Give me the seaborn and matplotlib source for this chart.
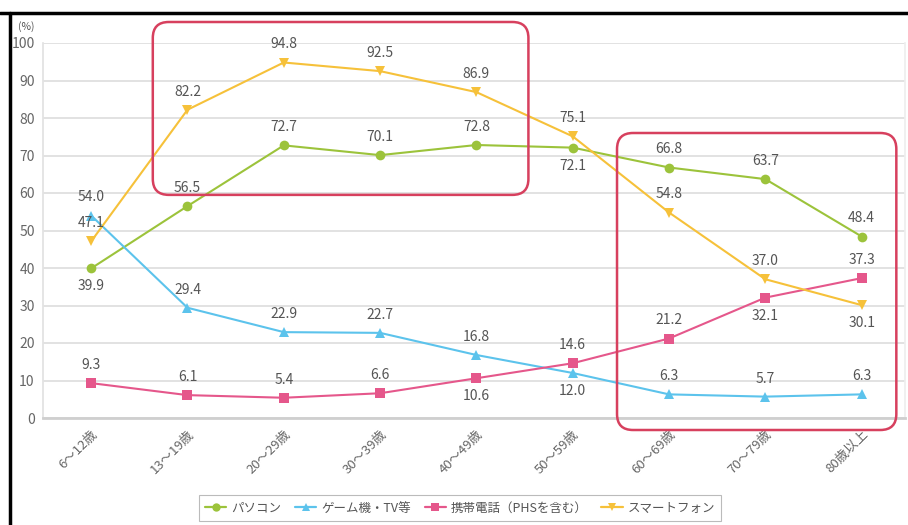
import numpy as np
import pandas as pd
import matplotlib
matplotlib.use("Agg")
import matplotlib.pyplot as plt
from matplotlib.patches import FancyBboxPatch
from matplotlib.lines import Line2D
from matplotlib.transforms import IdentityTransform
import seaborn as sns

# data
ages = ['6～12歳', '13～19歳', '20～29歳', '30～39歳', '40～49歳',
        '50～59歳', '60～69歳', '70～79歳', '80歳以上']
series_names = ['パソコン', 'ゲーム機・TV等', '携帯電話（PHSを含む）', 'スマートフォン']
pc = [39.9, 56.5, 72.7, 70.1, 72.8, 72.1, 66.8, 63.7, 48.4]
game = [54.0, 29.4, 22.9, 22.7, 16.8, 12.0, 6.3, 5.7, 6.3]
mobile = [9.3, 6.1, 5.4, 6.6, 10.6, 14.6, 21.2, 32.1, 37.3]
smart = [47.1, 82.2, 94.8, 92.5, 86.9, 75.1, 54.8, 37.0, 30.1]

# label placement: +1 above, -1 below
label_side = {
    'パソコン': [-1, 1, 1, 1, 1, -1, 1, 1, 1],
    'ゲーム機・TV等': [1, 1, 1, 1, 1, -1, 1, 1, 1],
    '携帯電話（PHSを含む）': [1, 1, 1, 1, -1, 1, 1, -1, 1],
    'スマートフォン': [1, 1, 1, 1, 1, 1, 1, 1, -1],
}

colors = ['#9cc33b', '#5cc3ec', '#e5578b', '#f6c13a']
markers = ['o', '^', 's', 'v']

vals = [pc, game, mobile, smart]
df = pd.concat([
    pd.DataFrame({'age': ages, 'x': range(len(ages)), 'value': v, 'series': n})
    for n, v in zip(series_names, vals)
])

sns.set_theme(style='white')
plt.rcParams['font.family'] = ['Noto Sans CJK JP', 'DejaVu Sans']

fig = plt.figure(figsize=(9.08, 5.25), dpi=100)
ax = fig.add_axes([43 / 908, 1 - 418 / 525, 862 / 908, 375 / 525])

sns.lineplot(
    data=df, x='x', y='value', hue='series', style='series',
    palette=dict(zip(series_names, colors)),
    markers=dict(zip(series_names, markers)),
    dashes=False, markersize=7, markeredgewidth=0,
    linewidth=1.5, ax=ax, legend=False, zorder=3
)

ax.set_xlim(-0.5, 8.45)
ax.set_ylim(0, 100)
ax.set_yticks(range(0, 101, 10))
ax.set_xticks(range(len(ages)))
ax.set_xticklabels(ages, rotation=45, ha='right', rotation_mode='anchor',
                   fontsize=9.5, color='#666666')
ax.tick_params(axis='y', labelsize=10, labelcolor='#666666', length=0, pad=6)
ax.tick_params(axis='x', length=0, pad=7)
ax.set_xlabel('')
ax.set_ylabel('')
ax.grid(axis='y', color='#e2e2e2', linewidth=1.4)
ax.spines['top'].set_visible(False)
ax.spines['right'].set_color('#eeeeee')
ax.spines['left'].set_color('#e2e2e2')
ax.spines['bottom'].set_color('#cfcfcf')
ax.spines['bottom'].set_linewidth(2)

for n, v in zip(series_names, vals):
    for i, val in enumerate(v):
        side = label_side[n][i]
        ax.annotate(f'{val:.1f}', (i, val), xytext=(0, 8 * side),
                    textcoords='offset points', ha='center',
                    va='bottom' if side > 0 else 'top',
                    fontsize=10, color='#555555', zorder=4)

ax.text(-0.76, 103, '(%)', fontsize=7.5, color='#555555',
        transform=ax.transData, ha='left', va='bottom', clip_on=False)

# highlight boxes
fig.canvas.draw()
for (x0, y0, x1, y1) in [(0.64, 59.5, 4.54, 105.6), (5.46, -3.2, 8.36, 76.0)]:
    p0 = ax.transData.transform((x0, y0))
    p1 = ax.transData.transform((x1, y1))
    box = FancyBboxPatch((p0[0], p0[1]), p1[0] - p0[0], p1[1] - p0[1],
                         boxstyle='round,pad=0,rounding_size=16',
                         transform=IdentityTransform(), fill=False,
                         edgecolor='#d7405e', linewidth=1.8, zorder=5)
    fig.patches.append(box)

# legend
handles = [Line2D([0], [0], color=c, marker=m, markersize=6, markeredgewidth=0,
                  linewidth=1.6) for c, m in zip(colors, markers)]
leg = fig.legend(handles, series_names, loc='center', ncol=4,
                 bbox_to_anchor=(460 / 908, 1 - 508 / 525), frameon=True,
                 fontsize=9, handlelength=1.7, columnspacing=1.1,
                 handletextpad=0.4, borderpad=0.5, fancybox=False)
leg.get_frame().set_edgecolor('#aaaaaa')
leg.get_frame().set_linewidth(0.8)
for t in leg.get_texts():
    t.set_color('#555555')

# outer frame lines
fig.add_artist(Line2D([0, 1], [1 - 13 / 525] * 2, color='black', linewidth=2.5))
fig.add_artist(Line2D([10 / 908] * 2, [0, 1 - 13 / 525], color='black', linewidth=2.5))

fig.savefig('out.png', dpi=100)
